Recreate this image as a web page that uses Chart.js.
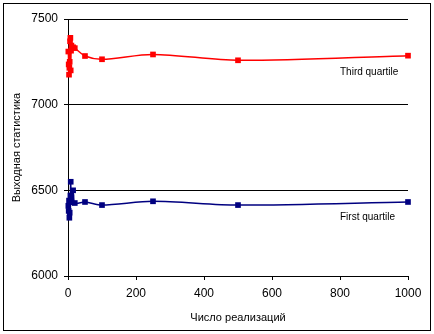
<!DOCTYPE html>
<html>
<head>
<meta charset="utf-8">
<script src="https://cdn.jsdelivr.net/npm/chart.js@4/dist/chart.umd.min.js"></script>
<style>
html,body{margin:0;padding:0;background:#fff;}
#wrap{width:434px;height:334px;}
</style>
</head>
<body>
<div id="wrap"><canvas id="c" width="434" height="334"></canvas></div>
<script>
const realizations = [1, 2, 3, 4, 5, 6, 7, 8, 9, 10, 15, 20, 50, 100, 250, 500, 1000];
const thirdQuartile = [7310, 7235, 7175, 7215, 7250, 7370, 7390, 7200, 7315, 7345, 7335, 7330, 7284, 7265, 7293, 7259, 7286];
const firstQuartile = [6410, 6380, 6440, 6340, 6370, 6430, 6470, 6550, 6440, 6460, 6500, 6426, 6432, 6414, 6436, 6414, 6432];
const xTicks = [0, 200, 400, 600, 800, 1000];
const yTicks = [6000, 6500, 7000, 7500];
const seriesLabels = ['Third quartile', 'First quartile'];
const labelAnchors = [{x: 800, y: 7191}, {x: 800, y: 6341}];
const xTitle = 'Число реализаций';
const yTitle = 'Выходная статистика';

const pts = (ys) => realizations.map((x, i) => ({x: x, y: ys[i]}));
const FONT = '"Liberation Sans", Arial, sans-serif';

const decor = {
  id: 'decor',
  afterDraw(chart) {
    const ctx = chart.ctx;
    ctx.save();
    ctx.strokeStyle = '#000';
    ctx.lineWidth = 1;
    ctx.strokeRect(3.5, 3.5, 427, 327);
    ctx.fillStyle = '#000';
    ctx.font = '10px ' + FONT;
    ctx.textAlign = 'left';
    ctx.textBaseline = 'middle';
    const xs = chart.scales.x, ys = chart.scales.y;
    seriesLabels.forEach((t, i) => {
      ctx.fillText(t, xs.getPixelForValue(labelAnchors[i].x), ys.getPixelForValue(labelAnchors[i].y));
    });
    ctx.restore();
  }
};

new Chart(document.getElementById('c'), {
  type: 'scatter',
  data: {
    datasets: [
      {
        label: seriesLabels[0],
        data: pts(thirdQuartile),
        showLine: true,
        borderColor: '#FF0000',
        backgroundColor: '#FF0000',
        borderWidth: 1.5,
        pointStyle: 'rect',
        pointRadius: 4,
        pointBorderWidth: 0,
        tension: 0.3,
        clip: false
      },
      {
        label: seriesLabels[1],
        data: pts(firstQuartile),
        showLine: true,
        borderColor: '#000080',
        backgroundColor: '#000080',
        borderWidth: 1.5,
        pointStyle: 'rect',
        pointRadius: 4,
        pointBorderWidth: 0,
        tension: 0.3,
        clip: false
      }
    ]
  },
  options: {
    responsive: false,
    animation: false,
    devicePixelRatio: 1,
    layout: {padding: {left: 0, top: 19, right: 26, bottom: 0}},
    plugins: {legend: {display: false}, tooltip: {enabled: false}},
    scales: {
      x: {
        type: 'linear',
        min: 0, max: 1000,
        afterFit(s) { s.height = 58; },
        afterBuildTicks(s) { s.ticks = xTicks.map(v => ({value: v})); },
        grid: {drawOnChartArea: false, drawTicks: true, tickLength: 4, color: '#000', lineWidth: 1},
        border: {display: true, color: '#000', width: 1},
        ticks: {color: '#000', font: {family: FONT, size: 12}, padding: 6, maxRotation: 0, callback: v => String(v)},
        title: {display: true, text: xTitle, color: '#000', font: {family: FONT, size: 11}, padding: {bottom: 9, top: 0}}
      },
      y: {
        type: 'linear',
        min: 6000, max: 7500,
        afterFit(s) { s.width = 68; },
        afterBuildTicks(s) { s.ticks = yTicks.map(v => ({value: v})); },
        grid: {drawOnChartArea: true, drawTicks: true, tickLength: 4, color: '#000', lineWidth: 1},
        border: {display: true, color: '#000', width: 1},
        ticks: {color: '#000', font: {family: FONT, size: 12}, padding: 6, callback: v => String(v)},
        title: {display: true, text: yTitle, color: '#000', font: {family: FONT, size: 11}, padding: {top: 10, bottom: 0}}
      }
    }
  },
  plugins: [decor]
});
</script>
</body>
</html>
